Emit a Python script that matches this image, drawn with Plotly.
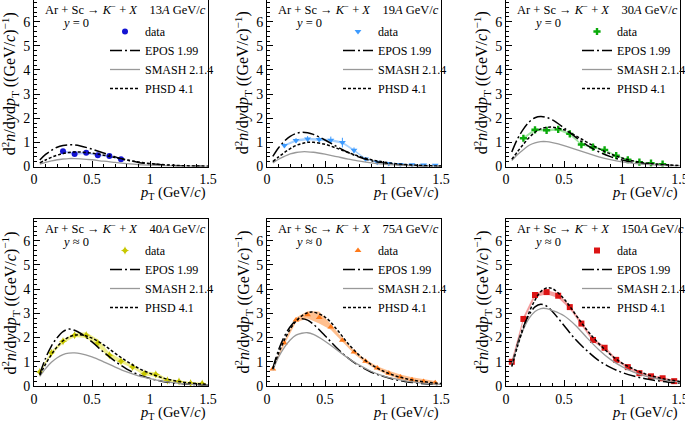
import plotly.graph_objects as go

# ---------------- data ----------------
energies = ["13", "19", "30", "40", "75", "150"]
rapidity_labels = ["y = 0", "y = 0", "y = 0", "y ≈ 0", "y ≈ 0", "y ≈ 0"]

pt_model = [0.05, 0.1, 0.15, 0.2, 0.25, 0.3, 0.35, 0.4, 0.5, 0.6, 0.7, 0.8, 0.9, 1.0, 1.1, 1.2, 1.3, 1.4, 1.5]

epos_13 = [0.27, 0.5, 0.67, 0.8, 0.87, 0.9, 0.89, 0.85, 0.72, 0.56, 0.4, 0.27, 0.17, 0.11, 0.07, 0.04, 0.025, 0.015, 0.01]
smash_13 = [0.1, 0.17, 0.23, 0.28, 0.31, 0.33, 0.33, 0.32, 0.28, 0.22, 0.17, 0.12, 0.08, 0.055, 0.035, 0.022, 0.014, 0.009, 0.006]
phsd_13 = [0.15, 0.27, 0.38, 0.47, 0.54, 0.58, 0.6, 0.6, 0.55, 0.47, 0.37, 0.27, 0.19, 0.12, 0.08, 0.05, 0.03, 0.02, 0.012]

epos_19 = [0.42, 0.78, 1.05, 1.25, 1.37, 1.42, 1.4, 1.33, 1.1, 0.83, 0.58, 0.38, 0.24, 0.15, 0.09, 0.055, 0.033, 0.02, 0.012]
smash_19 = [0.15, 0.3, 0.42, 0.52, 0.58, 0.61, 0.61, 0.59, 0.51, 0.41, 0.31, 0.22, 0.15, 0.1, 0.065, 0.04, 0.026, 0.017, 0.011]
phsd_19 = [0.2, 0.4, 0.58, 0.74, 0.87, 0.95, 1.0, 1.0, 0.92, 0.76, 0.58, 0.41, 0.28, 0.19, 0.12, 0.08, 0.05, 0.03, 0.02]

epos_30 = [0.6, 1.15, 1.55, 1.85, 2.02, 2.07, 2.03, 1.93, 1.6, 1.22, 0.88, 0.61, 0.41, 0.27, 0.17, 0.11, 0.07, 0.045, 0.03]
smash_30 = [0.25, 0.5, 0.7, 0.88, 0.98, 1.03, 1.03, 0.99, 0.87, 0.71, 0.55, 0.4, 0.28, 0.19, 0.13, 0.085, 0.055, 0.035, 0.023]
phsd_30 = [0.3, 0.62, 0.92, 1.2, 1.42, 1.56, 1.62, 1.63, 1.52, 1.28, 1.0, 0.74, 0.52, 0.35, 0.23, 0.15, 0.1, 0.065, 0.04]

epos_40 = [0.5, 1.15, 1.65, 2.0, 2.25, 2.35, 2.3, 2.18, 1.82, 1.4, 1.02, 0.7, 0.47, 0.31, 0.2, 0.13, 0.085, 0.055, 0.035]
smash_40 = [0.4, 0.72, 0.98, 1.17, 1.3, 1.36, 1.37, 1.34, 1.2, 1.0, 0.78, 0.58, 0.42, 0.3, 0.2, 0.14, 0.09, 0.06, 0.04]
phsd_40 = [0.45, 0.9, 1.3, 1.62, 1.87, 2.02, 2.1, 2.12, 1.98, 1.7, 1.35, 1.02, 0.74, 0.52, 0.35, 0.23, 0.15, 0.1, 0.065]

epos_75 = [0.72, 1.5, 2.05, 2.45, 2.7, 2.78, 2.72, 2.55, 2.08, 1.58, 1.15, 0.82, 0.57, 0.4, 0.27, 0.18, 0.12, 0.08, 0.055]
smash_75 = [0.65, 1.2, 1.6, 1.9, 2.1, 2.18, 2.2, 2.13, 1.85, 1.5, 1.15, 0.85, 0.6, 0.42, 0.3, 0.2, 0.14, 0.095, 0.065]
phsd_75 = [0.7, 1.35, 1.9, 2.35, 2.68, 2.9, 3.03, 3.05, 2.85, 2.35, 1.75, 1.25, 0.88, 0.62, 0.43, 0.3, 0.21, 0.15, 0.1]

epos_150 = [0.85, 1.75, 2.45, 2.95, 3.27, 3.38, 3.3, 3.08, 2.5, 1.92, 1.45, 1.05, 0.77, 0.56, 0.41, 0.3, 0.22, 0.16, 0.12]
smash_150 = [0.85, 1.7, 2.35, 2.8, 3.08, 3.2, 3.2, 3.12, 2.9, 2.5, 1.98, 1.5, 1.1, 0.8, 0.57, 0.41, 0.3, 0.22, 0.16]
phsd_150 = [0.8, 1.65, 2.4, 3.05, 3.55, 3.9, 4.05, 4.02, 3.6, 2.95, 2.3, 1.75, 1.3, 0.95, 0.7, 0.5, 0.36, 0.26, 0.19]

pt_13 = [0.25, 0.35, 0.45, 0.55, 0.65, 0.75]
data_13 = [0.63, 0.52, 0.57, 0.47, 0.43, 0.3]
stat_13 = [0.04, 0.03, 0.03, 0.03, 0.03, 0.03]
sys_13 = [0.05, 0.04, 0.04, 0.04, 0.04, 0.03]

pt_19 = [0.15, 0.25, 0.35, 0.45, 0.55, 0.65, 0.75, 0.85, 0.95, 1.05, 1.15, 1.25, 1.35, 1.45]
data_19 = [0.87, 1.08, 1.14, 1.12, 1.09, 0.99, 0.67, 0.31, 0.18, 0.12, 0.08, 0.07, 0.06, 0.05]
stat_19 = [0.08, 0.1, 0.12, 0.1, 0.15, 0.2, 0.12, 0.05, 0.03, 0.02, 0.02, 0.02, 0.02, 0.02]
sys_19 = [0.04, 0.05, 0.05, 0.05, 0.05, 0.05, 0.04, 0.03, 0.02, 0.02, 0.02, 0.02, 0.02, 0.02]

pt_30 = [0.15, 0.25, 0.35, 0.45, 0.55, 0.65, 0.75, 0.85, 0.95, 1.05, 1.15, 1.25, 1.35]
data_30 = [1.17, 1.52, 1.5, 1.54, 1.35, 0.91, 0.8, 0.69, 0.45, 0.28, 0.18, 0.14, 0.1]
stat_30 = [0.06, 0.06, 0.06, 0.06, 0.05, 0.05, 0.05, 0.05, 0.04, 0.03, 0.03, 0.03, 0.03]
sys_30 = [0.05, 0.05, 0.05, 0.05, 0.05, 0.04, 0.04, 0.04, 0.03, 0.03, 0.02, 0.02, 0.02]

pt_40 = [0.05, 0.15, 0.25, 0.35, 0.45, 0.55, 0.65, 0.75, 0.85, 0.95, 1.05, 1.15, 1.25, 1.35, 1.45]
data_40 = [0.58, 1.37, 1.85, 2.1, 2.1, 1.78, 1.27, 1.02, 0.79, 0.51, 0.48, 0.23, 0.19, 0.12, 0.1]
stat_40 = [0.05, 0.06, 0.06, 0.06, 0.06, 0.06, 0.05, 0.05, 0.04, 0.04, 0.04, 0.03, 0.03, 0.03, 0.03]
sys_40 = [0.05, 0.08, 0.08, 0.08, 0.12, 0.15, 0.1, 0.08, 0.06, 0.08, 0.1, 0.06, 0.05, 0.04, 0.04]

pt_75 = [0.05, 0.15, 0.25, 0.35, 0.45, 0.55, 0.65, 0.75, 0.85, 0.95, 1.05, 1.15, 1.25, 1.35, 1.45]
data_75 = [0.7, 1.78, 2.73, 2.94, 2.83, 2.44, 1.89, 1.4, 1.02, 0.74, 0.53, 0.37, 0.26, 0.19, 0.13]
stat_75 = [0.04, 0.05, 0.05, 0.05, 0.05, 0.05, 0.04, 0.04, 0.03, 0.03, 0.03, 0.02, 0.02, 0.02, 0.02]
sys_75 = [0.05, 0.08, 0.1, 0.15, 0.25, 0.12, 0.08, 0.07, 0.07, 0.08, 0.1, 0.1, 0.1, 0.1, 0.08]

pt_150 = [0.05, 0.15, 0.25, 0.35, 0.45, 0.55, 0.65, 0.75, 0.85, 0.95, 1.05, 1.15, 1.25, 1.35, 1.45]
data_150 = [1.0, 2.77, 3.76, 3.88, 3.73, 3.26, 2.58, 1.9, 1.58, 1.08, 0.78, 0.53, 0.4, 0.32, 0.2]
stat_150 = [0.05, 0.05, 0.05, 0.05, 0.05, 0.05, 0.05, 0.04, 0.04, 0.04, 0.03, 0.03, 0.03, 0.03, 0.03]
sys_150 = [0.08, 0.09, 0.09, 0.09, 0.09, 0.08, 0.08, 0.07, 0.07, 0.06, 0.06, 0.05, 0.05, 0.05, 0.05]

marker_colors = ["#1414d2", "#3d9bff", "#0aaa0a", "#c8c800", "#ff7a1a", "#dc1414"]
band_colors = ["#b4c4ff", "#a8d2ff", "#a0e6a0", "#f0f08c", "#ffc090", "#f5a0a0"]
marker_symbols = ["circle", "triangle-down", "cross", "star-diamond", "triangle-up", "square"]

# ---------------- layout geometry (pixels) ----------------
W, H = 685, 423
col_px = [(34, 208), (267, 441), (506, 680)]
row_px = [(0, 166.5), (219, 386)]

models = [
    [epos_13, smash_13, phsd_13], [epos_19, smash_19, phsd_19], [epos_30, smash_30, phsd_30],
    [epos_40, smash_40, phsd_40], [epos_75, smash_75, phsd_75], [epos_150, smash_150, phsd_150],
]
datas = [
    (pt_13, data_13, stat_13, sys_13), (pt_19, data_19, stat_19, sys_19), (pt_30, data_30, stat_30, sys_30),
    (pt_40, data_40, stat_40, sys_40), (pt_75, data_75, stat_75, sys_75), (pt_150, data_150, stat_150, sys_150),
]

FONT = "Liberation Serif"
fig = go.Figure()
annotations = []
layout = dict(
    width=W, height=H, margin=dict(l=0, r=0, t=0, b=0, autoexpand=False),
    paper_bgcolor="white", plot_bgcolor="white",
    font=dict(family=FONT, size=14, color="black"),
)

for i in range(6):
    r, c = divmod(i, 3)
    sfx = "" if i == 0 else str(i + 1)
    xa, ya = "x" + sfx, "y" + sfx
    leg = "legend" + sfx
    x0, x1 = col_px[c]
    y0, y1 = row_px[r]
    layout["xaxis" + sfx] = dict(
        domain=[x0 / W, x1 / W], anchor=ya, range=[0, 1.5], dtick=0.5,
        showline=True, linecolor="black", linewidth=1, mirror=True,
        ticks="inside", ticklen=6, tickcolor="black", ticklabeloverflow="allow",
        minor=dict(ticks="inside", ticklen=3, dtick=0.1, tickcolor="black"),
        showgrid=False, zeroline=False, tickfont=dict(size=14, family=FONT),
    )
    layout["yaxis" + sfx] = dict(
        domain=[1 - y1 / H, 1 - y0 / H], anchor=xa, range=[0, 6.9], dtick=1,
        showline=True, linecolor="black", linewidth=1, mirror=True,
        ticks="inside", ticklen=6, tickcolor="black", ticklabeloverflow="allow",
        minor=dict(ticks="inside", ticklen=3, dtick=0.2, tickcolor="black"),
        showgrid=False, zeroline=False, tickfont=dict(size=14, family=FONT),
    )
    leg_x = (x1 - 60 - 43) / W
    leg_top = (y0 + 17) / H
    layout[leg] = dict(
        x=leg_x, y=1 - leg_top, xanchor="left", yanchor="top",
        bgcolor="rgba(0,0,0,0)", font=dict(family=FONT, size=12),
        tracegroupgap=0,
    )

    pt, dv, st, sy = datas[i]
    up = [d + s for d, s in zip(dv, sy)]
    lo = [d - s for d, s in zip(dv, sy)]
    fig.add_trace(go.Scatter(
        x=pt + pt[::-1], y=up + lo[::-1], fill="toself", mode="lines",
        line=dict(width=0, color=band_colors[i]), fillcolor=band_colors[i],
        xaxis=xa, yaxis=ya, showlegend=False, hoverinfo="skip",
    ))
    fig.add_trace(go.Scatter(
        x=pt, y=dv, mode="markers", name="data",
        marker=dict(symbol=marker_symbols[i], size=6, color=marker_colors[i],
                    line=dict(width=0)),
        error_y=dict(type="data", array=st, color=marker_colors[i], thickness=1, width=0),
        xaxis=xa, yaxis=ya, legend=leg,
    ))
    ep, sm, ph = models[i]
    fig.add_trace(go.Scatter(
        x=pt_model, y=ep, mode="lines", name="EPOS 1.99", line_shape="spline",
        line=dict(color="black", width=1.5, dash="12px,3px,2px,3px"),
        xaxis=xa, yaxis=ya, legend=leg,
    ))
    fig.add_trace(go.Scatter(
        x=pt_model, y=sm, mode="lines", name="SMASH 2.1.4", line_shape="spline",
        line=dict(color="#999999", width=1.3),
        xaxis=xa, yaxis=ya, legend=leg,
    ))
    fig.add_trace(go.Scatter(
        x=pt_model, y=ph, mode="lines", name="PHSD 4.1", line_shape="spline",
        line=dict(color="black", width=1.5, dash="3px,2px"),
        xaxis=xa, yaxis=ya, legend=leg,
    ))

    annotations.append(dict(
        xref=xa + " domain", yref=ya + " domain", x=0.05, y=1, xanchor="left", yanchor="middle",
        yshift=-9, showarrow=False, font=dict(family=FONT, size=12.5),
        text="Ar + Sc → <i>K</i><sup>−</sup> + <i>X</i>&nbsp;&nbsp;&nbsp;&nbsp;" + energies[i] + "<i>A</i> GeV/<i>c</i>",
    ))
    annotations.append(dict(
        xref=xa + " domain", yref=ya + " domain", x=0.15, y=1, xanchor="left", yanchor="middle",
        yshift=-23, showarrow=False, font=dict(family=FONT, size=12.5),
        text="<i>y</i>" + rapidity_labels[i][1:],
    ))
    annotations.append(dict(
        xref=xa + " domain", yref=ya + " domain", x=1, y=0, xanchor="right", yanchor="middle",
        yshift=-27, showarrow=False, font=dict(family=FONT, size=14.5),
        text="<i>p</i><sub>T</sub> (GeV/<i>c</i>)",
    ))
    annotations.append(dict(
        xref=xa + " domain", yref=ya + " domain", x=0, y=0.5, xanchor="right", yanchor="middle",
        xshift=-11, showarrow=False, textangle=-90, font=dict(family=FONT, size=16),
        text="d<sup>2</sup><i>n</i>/d<i>y</i>d<i>p</i><sub>T</sub> ((GeV/<i>c</i>)<sup>−1</sup>)",
    ))

layout["annotations"] = annotations
fig.update_layout(**layout)
fig.write_html("out.html")
